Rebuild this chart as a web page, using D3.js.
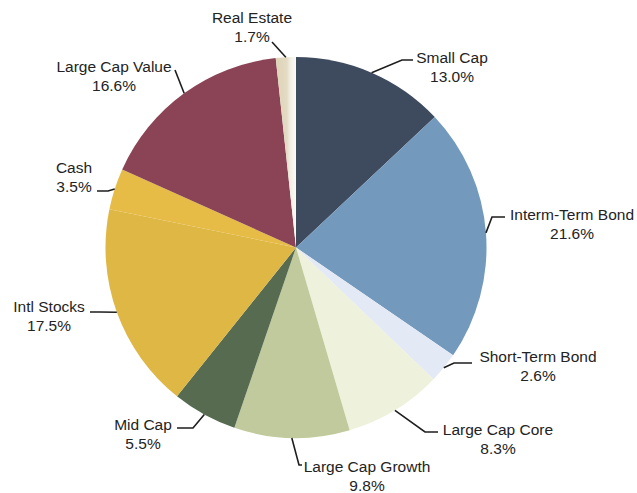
<!DOCTYPE html>
<html>
<head>
<meta charset="utf-8">
<script src="https://cdn.jsdelivr.net/npm/d3@7"></script>
<style>
  html, body { margin: 0; padding: 0; background: #ffffff; }
  svg { display: block; }
  text { font-family: "Liberation Sans", Arial, sans-serif; fill: #232323; }
</style>
</head>
<body>
<svg id="chart" width="637" height="493"></svg>
<script>
// Portfolio allocation, clockwise from 12 o'clock
const categories = ["Small Cap", "Interm-Term Bond", "Short-Term Bond", "Large Cap Core",
  "Large Cap Growth", "Mid Cap", "Intl Stocks", "Cash", "Large Cap Value", "Real Estate"];
const values = [13.0, 21.6, 2.6, 8.3, 9.8, 5.5, 17.5, 3.5, 16.6, 1.7];
const colors = ["#3e4a5e", "#7399bd", "#e3e9f5", "#eef2dc", "#c0ca9c", "#566b50",
  "#dfb744", "#e6bb46", "#8a4456", "#e0d7bd"];

// Label placement: text anchor point (first baseline) and leader-line bend points
const labelLayout = [
  { tx: 452, ty: 63,  pts: [[402, 60], [413, 60]] },
  { tx: 572, ty: 220, pts: [[492, 217], [505, 217]] },
  { tx: 538, ty: 362, pts: [[454, 363], [472, 363]] },
  { tx: 498, ty: 435, pts: [[425, 432], [438, 432]] },
  { tx: 367, ty: 472, pts: [[299, 465], [302, 465]] },
  { tx: 143, ty: 430, pts: [[193, 428], [177, 428]] },
  { tx: 49,  ty: 312, pts: [[100, 312], [90, 312]] },
  { tx: 74,  ty: 173, pts: [[108, 191], [97, 191]] },
  { tx: 114, ty: 72,  pts: [[175, 70]] },
  { tx: 252, ty: 23,  pts: [[272, 42]] }
];

const cx = 296, cy = 247.5, radius = 190.5;
const lineGap = 18.5;

const svg = d3.select("#chart");

const defs = svg.append("defs");
const grad = defs.append("linearGradient").attr("id", "reGrad")
  .attr("x1", "0").attr("x2", "1").attr("y1", "0").attr("y2", "0");
grad.append("stop").attr("offset", "0").attr("stop-color", "#ddd3b6");
grad.append("stop").attr("offset", "0.55").attr("stop-color", "#e3dbc3");
grad.append("stop").attr("offset", "0.7").attr("stop-color", "#f1ede2");
grad.append("stop").attr("offset", "1").attr("stop-color", "#fbfaf6");

const data = categories.map((c, i) => ({ name: c, value: values[i], color: colors[i], layout: labelLayout[i] }));

const pie = d3.pie().sort(null).value(d => d.value);
const arcs = pie(data);

const arc = d3.arc().innerRadius(0).outerRadius(radius);
const edgeArc = d3.arc().innerRadius(radius).outerRadius(radius);

const g = svg.append("g").attr("transform", `translate(${cx},${cy})`);

g.selectAll("path.slice")
  .data(arcs)
  .join("path")
  .attr("class", "slice")
  .attr("d", arc)
  .attr("fill", d => d.data.name === "Real Estate" ? "url(#reGrad)" : d.data.color);

// Leader lines from the slice edge to the label
const line = d3.line();
svg.append("g").selectAll("path.leader")
  .data(arcs)
  .join("path")
  .attr("class", "leader")
  .attr("fill", "none")
  .attr("stroke", "#1e1e1e")
  .attr("stroke-width", 1.6)
  .attr("d", d => {
    const [ex, ey] = edgeArc.centroid(d);
    return line([[cx + ex, cy + ey], ...d.data.layout.pts]);
  });

// Two-line labels: name and percentage
const labels = svg.append("g").selectAll("text.label")
  .data(arcs)
  .join("text")
  .attr("class", "label")
  .attr("text-anchor", "middle")
  .attr("font-size", "15.5px");

labels.append("tspan")
  .attr("x", d => d.data.layout.tx)
  .attr("y", d => d.data.layout.ty)
  .text(d => d.data.name);

labels.append("tspan")
  .attr("x", d => d.data.layout.tx)
  .attr("y", d => d.data.layout.ty + lineGap)
  .text(d => d3.format(".1f")(d.data.value) + "%");
</script>
</body>
</html>
